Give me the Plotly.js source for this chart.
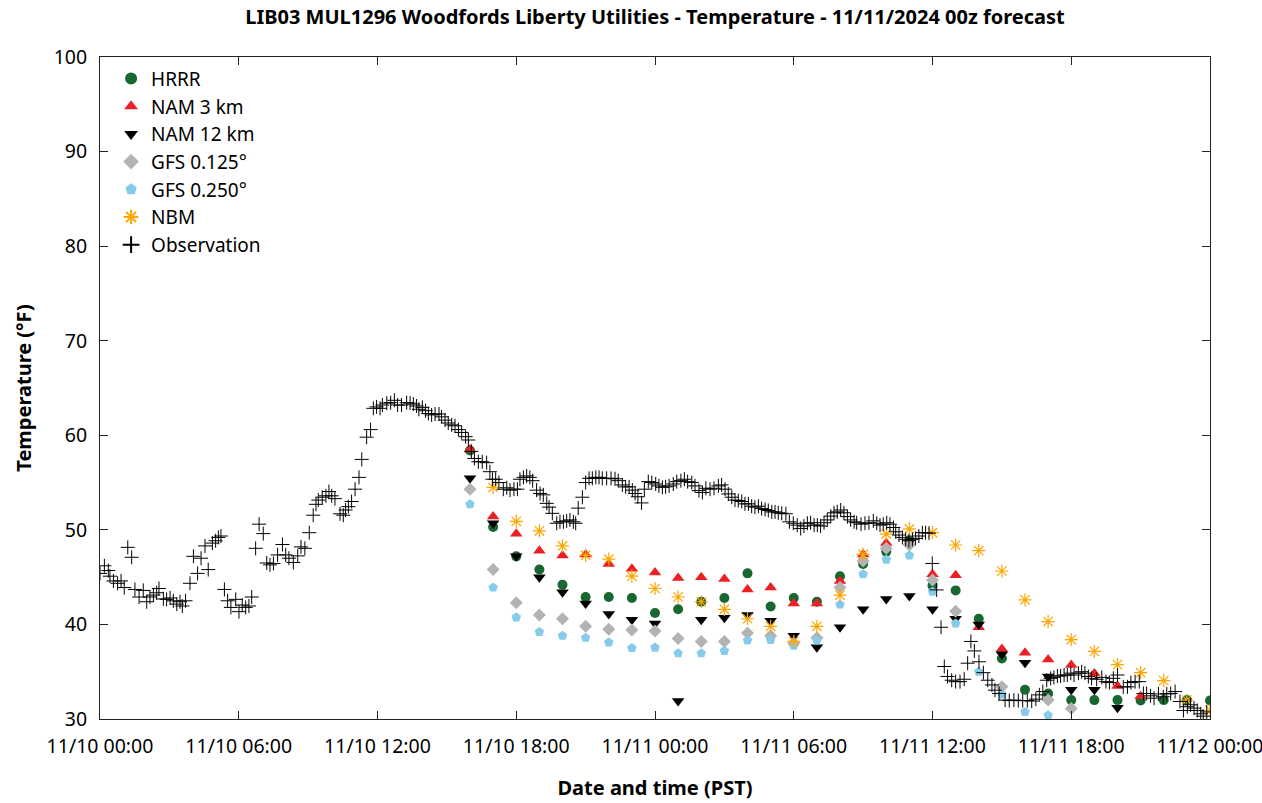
<!DOCTYPE html>
<html><head><meta charset="utf-8">
<script src="https://cdn.plot.ly/plotly-3.0.1.min.js"></script>
<style>html,body{margin:0;padding:0;background:#fff}#chart{width:1262px;height:803px}</style>
</head><body><div id="chart"></div>
<script>
// Hours since 11/10 00:00 PST
const tickHours = [0, 6, 12, 18, 24, 30, 36, 42, 48];
const tickLabels = ["11/10 00:00", "11/10 06:00", "11/10 12:00", "11/10 18:00", "11/11 00:00", "11/11 06:00", "11/11 12:00", "11/11 18:00", "11/12 00:00"];

// Forecast valid hours (00z run = 16:00 PST)
const modelHours = [16,17,18,19,20,21,22,23,24,25,26,27,28,29,30,31,32,33,34,35,36,37,38,39,40,41,42,43,44,45,46,47,48];

const hrrr = [58.4,50.3,47.2,45.8,44.2,42.9,42.9,42.8,41.2,41.6,42.4,42.8,45.4,41.9,42.8,42.4,45.1,46.4,47.7,48.9,44.1,43.6,40.6,36.4,33.1,32.7,32.0,32.0,32.0,31.95,32.0,32.0,31.95];
const nam3 = [58.5,51.4,49.6,47.8,47.3,47.4,46.4,45.9,45.5,44.9,45.0,44.8,43.7,43.9,42.2,42.2,44.6,47.4,48.6,48.7,45.3,45.2,39.7,37.4,37.0,36.3,35.7,34.8,33.5,32.4,null,null,null];
const nam12 = [55.45,50.7,47.2,45.0,43.4,42.2,41.1,40.5,40.1,31.9,40.5,40.7,41.0,40.4,38.8,37.6,39.7,41.6,42.7,43.0,41.6,40.6,40.0,36.85,35.95,34.5,33.1,33.1,31.2,null,null,null,null];
const gfs0125 = [54.3,45.8,42.3,41.0,40.6,39.8,39.5,39.4,39.3,38.5,38.2,38.2,39.1,38.8,38.0,38.6,43.9,46.7,48.05,48.4,44.7,41.4,null,33.4,null,32.0,31.1,null,null,null,null,null,null];
const gfs0250 = [52.7,43.9,40.75,39.2,38.8,38.6,38.1,37.5,37.55,36.95,36.95,37.2,38.3,38.35,37.75,38.3,42.1,45.3,46.85,47.3,43.45,40.1,35.0,32.6,30.75,30.4,null,null,null,null,null,null,null];
const nbm = [null,54.5,50.9,49.9,48.3,47.3,46.9,45.1,43.8,42.9,42.4,41.6,40.6,39.8,38.2,39.8,43.1,47.4,49.55,50.1,49.7,48.4,47.8,45.65,42.6,40.3,38.4,37.15,35.75,34.9,34.05,32.0,30.9];

const obsHours = [0,0.19,0.36,0.43,0.58,0.76,0.91,1.05,1.20,1.37,1.51,1.69,1.87,2.02,2.16,2.31,2.45,2.55,2.74,2.88,3.03,3.17,3.32,3.46,3.56,3.70,3.89,4.04,4.22,4.37,4.54,4.68,4.86,5.00,5.12,5.23,5.38,5.52,5.66,5.87,6.01,6.15,6.30,6.44,6.56,
6.73,6.88,7.06,7.21,7.35,7.50,7.68,7.89,8.03,8.17,8.36,8.55,8.69,8.86,9.05,9.22,9.34,9.44,9.61,9.77,9.90,10.02,10.16,10.38,10.52,10.62,10.74,10.88,11.03,11.20,11.32,11.53,11.70,11.82,11.96,12.11,12.21,12.40,12.57,12.73,12.87,13.04,
13.26,13.41,13.55,13.69,13.79,13.94,14.08,14.20,14.34,14.49,14.66,14.77,14.92,15.06,15.21,15.35,15.50,15.64,15.81,15.93,16.06,16.19,16.36,16.53,16.72,16.86,16.97,17.11,17.25,17.44,17.59,17.73,17.90,18.05,18.16,18.31,18.45,18.59,18.71,18.88,19.03,19.17,19.32,19.42,19.56,
19.75,19.89,20.04,20.18,20.32,20.47,20.57,20.68,20.86,21.00,21.15,21.29,21.44,21.58,21.72,21.91,22.10,22.27,22.41,22.59,22.73,22.88,23.02,23.14,23.26,23.42,23.54,23.71,23.86,24.03,24.17,24.32,24.46,24.61,24.79,24.94,25.12,25.27,25.41,25.59,25.73,25.90,26.05,
26.20,26.38,26.55,26.74,26.88,27.03,27.17,27.32,27.46,27.60,27.75,27.89,28.04,28.18,28.32,28.47,28.61,28.76,28.90,29.05,29.19,29.33,29.48,29.66,29.81,29.98,30.15,30.30,30.44,30.59,30.73,30.88,31.02,31.16,31.31,31.45,31.60,31.74,31.88,32.03,32.17,32.32,32.46,32.61,
32.72,32.91,33.08,33.25,33.44,33.59,33.73,33.87,34.02,34.16,34.31,34.41,34.55,34.70,34.84,34.98,35.13,35.27,35.41,35.56,35.70,35.85,35.99,36.18,36.37,36.51,36.65,36.83,37.00,37.19,37.37,37.52,37.66,37.81,38.01,38.20,38.39,38.57,38.70,38.88,
39.14,39.32,39.52,39.71,39.90,40.10,40.29,40.47,40.62,40.77,40.94,41.11,41.25,41.40,41.54,41.69,41.83,41.98,42.12,42.31,42.45,42.59,42.74,42.88,43.10,43.32,43.50,43.65,43.82,44.00,44.25,44.43,44.58,44.76,44.94,45.12,45.26,45.43,45.58,45.77,45.98,46.13,46.30,46.49,46.70,46.85,47.02,47.16,47.31,47.45,47.60,47.71,47.86];
const obsTemps = [45.4,46.2,45.7,45.1,44.6,44.35,44.6,43.9,48.15,47.1,43.7,42.9,43.6,42.4,42.9,43.1,43.35,43.8,42.7,42.65,42.8,42.5,42.15,42.4,41.95,42.5,44.35,47.2,45.4,47.0,48.3,45.8,48.6,48.85,49.2,49.35,43.7,42.5,41.8,42.65,41.35,42.05,41.8,41.95,42.9,
48.05,50.6,49.6,46.5,46.3,46.45,47.35,48.45,47.35,47.0,46.55,47.25,48.2,48.05,49.7,51.55,52.7,53.15,53.45,53.6,54.05,53.6,53.3,51.7,51.55,52.1,52.45,53.0,54.3,55.55,57.45,59.8,60.6,62.85,63.0,62.85,63.2,63.4,63.45,63.7,63.2,63.2,
63.45,63.4,63.3,63.1,62.75,62.95,62.6,62.3,62.15,62.25,62.25,61.95,61.6,61.3,61.1,61.0,60.6,60.3,59.85,59.5,58.3,57.55,57.2,57.2,57.1,56.15,55.35,55.35,55.0,54.3,54.45,54.2,54.3,54.3,55.35,55.55,55.7,55.55,55.2,54.2,53.85,53.7,52.8,52.4,51.75,
50.7,50.85,50.85,50.95,51.05,50.85,50.7,52.3,53.45,55.0,55.45,55.45,55.55,55.55,55.45,55.45,55.45,55.4,55.2,54.75,54.55,54.55,54.2,53.85,53.5,52.85,54.3,55.1,55.0,54.85,54.65,54.5,54.55,54.65,54.85,55.1,55.2,55.35,55.1,55.0,54.65,54.15,53.95,
54.4,54.3,54.4,54.65,54.75,54.3,53.8,53.45,53.15,53.1,53.0,52.75,52.75,52.5,52.4,52.5,52.25,52.15,52.05,51.9,51.9,51.8,51.75,51.7,50.85,50.7,50.5,50.15,50.4,50.7,50.75,50.5,50.5,50.4,50.75,51.05,51.45,51.8,51.9,52.1,51.8,51.4,51.05,50.85,
50.75,50.6,50.7,50.75,50.95,50.7,50.5,50.6,50.75,50.6,50.25,49.8,49.45,49.2,49.0,48.85,49.0,49.1,49.35,49.7,49.7,49.65,46.45,43.65,39.7,35.55,34.5,34.1,33.95,33.95,34.2,35.9,38.2,37.2,36.05,34.9,34.1,33.6,33.05,32.7,
32.0,31.95,32.0,31.95,31.95,31.95,31.9,32.1,32.55,32.9,34.1,34.3,34.4,34.55,34.55,34.65,34.65,34.85,34.65,34.85,35.0,34.85,34.5,34.3,34.2,34.4,33.95,33.85,34.3,34.65,33.4,33.4,33.85,33.95,33.95,32.7,32.7,32.45,32.2,32.65,32.35,32.65,32.7,32.9,31.85,30.9,31.3,31.5,31.15,30.9,30.55,30.3,30.75];

const FONT = "Noto Sans, Open Sans, sans-serif";

function series(name, y, symbol, color, size, lineW) {
  const m = {symbol: symbol, size: size, color: color};
  if (lineW) m.line = {color: color, width: lineW};
  else m.line = {width: 0};
  return {type: "scatter", mode: "markers", name: name, x: modelHours, y: y, marker: m};
}

const traces = [
  series("HRRR", hrrr, "circle", "#17672f", 10),
  series("NAM 3 km", nam3, "triangle-up", "#ec2024", 11),
  series("NAM 12 km", nam12, "triangle-down", "#000000", 11),
  series("GFS 0.125°", gfs0125, "diamond", "#b3b3b3", 10),
  series("GFS 0.250°", gfs0250, "pentagon", "#86cbe9", 10),
  series("NBM", nbm, "asterisk-open", "#ffa500", 11, 1.2),
  {type: "scatter", mode: "markers", name: "Observation", x: obsHours, y: obsTemps,
   marker: {symbol: "cross-thin-open", size: 10, color: "#000", line: {color: "#222", width: 1}}}
];

const layout = {
  width: 1262, height: 803,
  margin: {l: 100, r: 52, t: 57, b: 84},
  paper_bgcolor: "#fff", plot_bgcolor: "#fff",
  font: {family: FONT, size: 20, color: "#000"},
  showlegend: true,
  title: {text: "<b>LIB03 MUL1296 Woodfords Liberty Utilities - Temperature - 11/11/2024 00z forecast</b>",
          font: {family: FONT, size: 20, color: "#000"}, x: 0.5, xref: "paper", y: 0.979, yref: "container", yanchor: "middle"},
  xaxis: {
    range: [0, 48], tickvals: tickHours, ticktext: tickLabels,
    showgrid: false, zeroline: false, showline: true, linecolor: "#222", linewidth: 1, mirror: "ticks",
    ticks: "inside", ticklen: 8, tickcolor: "#222", tickfont: {family: FONT, size: 19.5}, ticklabelstandoff: 10,
    ticklabeloverflow: "allow",
    title: {text: "<b>Date and time (PST)</b>", font: {family: FONT, size: 20}, standoff: 22}
  },
  yaxis: {
    range: [30, 100], dtick: 10, tick0: 30,
    showgrid: false, zeroline: false, showline: true, linecolor: "#222", linewidth: 1, mirror: "ticks",
    ticks: "inside", ticklen: 8, tickcolor: "#222", tickfont: {family: FONT, size: 19.5}, ticklabelstandoff: 8,
    title: {text: "<b>Temperature (°F)</b>", font: {family: FONT, size: 20}, standoff: 16}
  },
  legend: {x: 0.01, y: 0.996, xanchor: "left", yanchor: "top", bgcolor: "rgba(0,0,0,0)",
           font: {family: FONT, size: 19}, itemsizing: "constant", tracegroupgap: 0}
};

Plotly.newPlot("chart", traces, layout, {displayModeBar: false, staticPlot: true});
</script></body></html>
